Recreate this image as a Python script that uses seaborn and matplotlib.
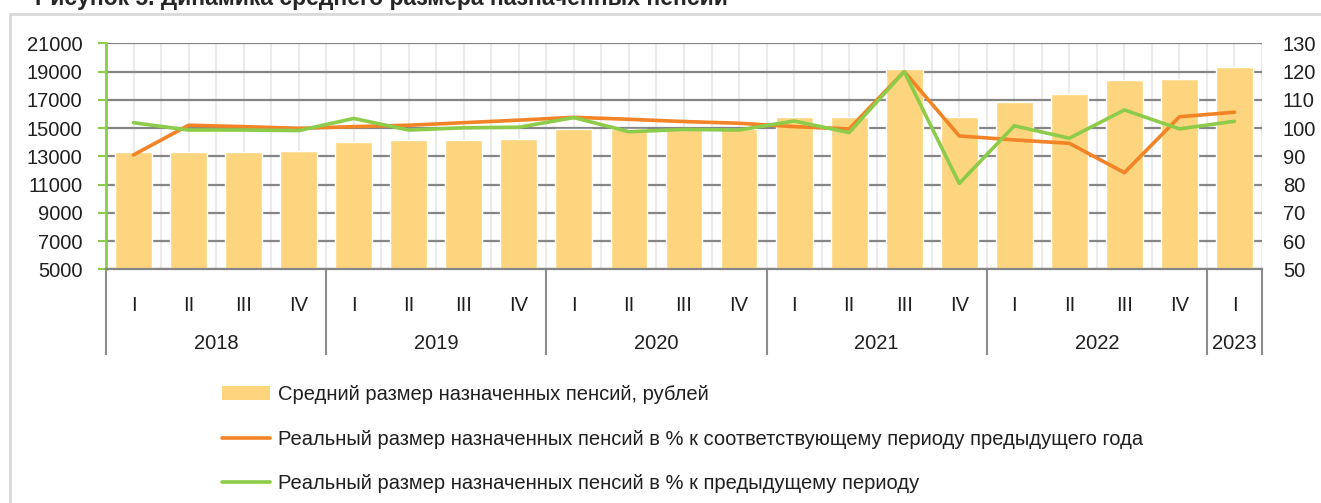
import numpy as np
import pandas as pd
import seaborn as sns
import matplotlib
import matplotlib.pyplot as plt
from matplotlib.patches import Patch
from matplotlib.lines import Line2D

matplotlib.use("Agg")  # no display

# Data
quarters = ["I", "II", "III", "IV"] * 5 + ["I"]
years = ["2018", "2019", "2020", "2021", "2022", "2023"]
year_sizes = [4, 4, 4, 4, 4, 1]
avg_pension = [13300, 13300, 13300, 13400, 14030, 14130, 14150, 14250,
               14910, 14900, 14860, 14910, 15760, 15760, 19160, 15760,
               16870, 17410, 18400, 18500, 19320]
real_yoy = [90.5, 101.0, 100.5, 99.9, 100.5, 101.0, 101.9, 102.8,
            103.8, 103.1, 102.3, 101.7, 100.5, 99.7, 120.0, 97.2,
            95.8, 94.6, 84.2, 104.0, 105.6]
real_qoq = [101.9, 99.3, 99.3, 99.1, 103.4, 99.3, 100.1, 100.3,
            103.7, 98.7, 99.5, 99.3, 102.5, 98.4, 120.0, 80.4,
            100.8, 96.4, 106.4, 99.7, 102.4]
left_ticks = list(range(5000, 21001, 2000))
right_ticks = list(range(50, 131, 10))

labels = [
    "Средний размер назначенных пенсий, рублей",
    "Реальный размер назначенных пенсий в % к соответствующему периоду предыдущего года",
    "Реальный размер назначенных пенсий в % к предыдущему периоду",
]
title = "Рисунок 5. Динамика среднего размера назначенных пенсий"

BAR = "#FDD57E"
ORANGE = "#F28327"
GREEN = "#8DCB4A"
TEXT = "#1f1f1f"

sns.set_style("white")
plt.rcParams["font.family"] = ["Liberation Sans", "DejaVu Sans"]
FS = 14.5

df = pd.DataFrame({
    "pos": np.arange(len(quarters)),
    "avg": avg_pension,
    "yoy": real_yoy,
    "qoq": real_qoq,
})

W, H = 1321, 503
fig = plt.figure(figsize=(W / 100, H / 100), dpi=100)
ax = fig.add_axes([106 / W, 1 - 269.3 / H, (1262 - 106) / W, 226 / H])

sns.barplot(data=df, x="pos", y="avg", color=BAR, saturation=1, width=0.67, ax=ax, zorder=2)
ax.set_ylim(left_ticks[0], left_ticks[-1])
ax.set_xlim(-0.5, len(quarters) - 0.5)
ax.set_yticks(left_ticks)
ax.set_yticklabels([str(v) for v in left_ticks])
ax.set_xticks(range(len(quarters)))
ax.set_xticklabels(quarters)
ax.set_xticks(np.arange(-0.5, len(quarters), 1), minor=True)
ax.set_axisbelow(True)
ax.grid(axis="x", which="both", color="#ebebeb", lw=1.5)
ax.grid(axis="y", which="major", color="#858585", lw=1.6)
ax.set_xlabel("")
ax.set_ylabel("")
ax.tick_params(axis="x", which="both", length=0, pad=19, labelsize=FS, labelcolor=TEXT)
ax.tick_params(axis="y", color=GREEN, length=6, width=1.5, pad=11, labelsize=FS, labelcolor=TEXT)
for s in ["top", "right"]:
    ax.spines[s].set_visible(False)
ax.spines["left"].set_color(GREEN)
ax.spines["left"].set_linewidth(2)
ax.spines["bottom"].set_color("#858585")
ax.spines["bottom"].set_linewidth(1.6)

# year groups under the quarter labels
bounds = np.concatenate([[0], np.cumsum(year_sizes)]) - 0.5
xt = ax.get_xaxis_transform()
ax.vlines(bounds, -0.38, 0, transform=xt, color="#8c8c8c", lw=1.5, clip_on=False)
for i, yr in enumerate(years):
    ax.text((bounds[i] + bounds[i + 1]) / 2, -0.33, yr, transform=xt,
            ha="center", va="center", fontsize=FS, color=TEXT)

ax2 = ax.twinx()
sns.lineplot(data=df, x="pos", y="yoy", color=ORANGE, lw=2.6, ax=ax2)
sns.lineplot(data=df, x="pos", y="qoq", color=GREEN, lw=2.6, ax=ax2)
ax2.set_ylim(right_ticks[0], right_ticks[-1])
ax2.set_yticks(right_ticks)
ax2.set_xlim(-0.5, len(quarters) - 0.5)
ax2.set_ylabel("")
ax2.tick_params(axis="y", length=0, pad=15, labelsize=FS, labelcolor=TEXT)
for s in ax2.spines.values():
    s.set_visible(False)

handles = [
    Patch(facecolor=BAR, edgecolor="none"),
    Line2D([], [], color=ORANGE, lw=2.6),
    Line2D([], [], color=GREEN, lw=2.6),
]
fig.legend(handles, labels, loc="upper left", bbox_to_anchor=(222 / W, 1 - 385 / H),
           frameon=False, fontsize=FS, handlelength=2.4, handletextpad=0.4,
           labelspacing=1.27, borderpad=0, borderaxespad=0, labelcolor=TEXT)

# outer frame and title (cut off at the top edge, as in the source image)
fig.add_artist(Line2D([10 / W, 1], [1 - 14 / H, 1 - 14 / H], color="#d9d9d9", lw=2))
fig.add_artist(Line2D([10 / W, 10 / W], [0, 1 - 14 / H], color="#d9d9d9", lw=2))
fig.text(35 / W, 1 - 5 / H, title, fontsize=16.5, fontweight="bold", va="baseline")

fig.savefig("out.png", dpi=100)
